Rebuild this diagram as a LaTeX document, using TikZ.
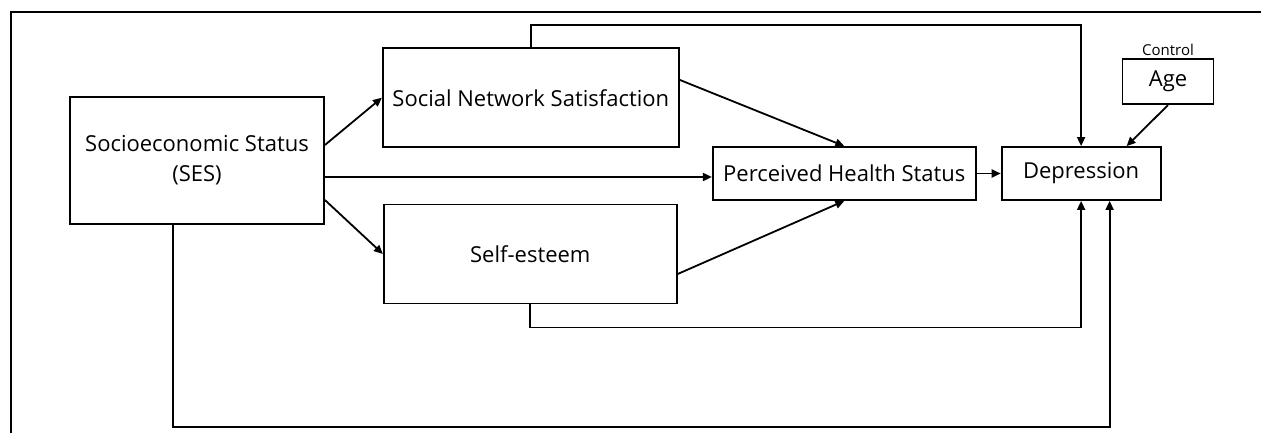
\documentclass[tikz,border=0pt]{standalone}
\usepackage{fontspec}
\setmainfont{Open Sans}
\usetikzlibrary{positioning,arrows.meta}

\begin{document}
\begin{tikzpicture}[
    font=\fontsize{11}{15}\selectfont,
    block/.style={
        draw,
        line width=0.9pt,
        minimum height=26.5pt,
        align=center,
        inner sep=2pt
    },
    wide/.style={block, minimum width=148pt, minimum height=49.5pt},
    arrow/.style={-{Triangle[length=4.5pt,width=4pt]}, line width=0.9pt},
    line/.style={line width=0.9pt}
]
\useasboundingbox (-98.5pt,-136.25pt) rectangle (532pt,80.25pt);

% ============================================================
% FRAME
% ============================================================
\draw[line] (532pt,74.25pt) -| (-93pt,-136.25pt);

% ============================================================
% NODES
% ============================================================
\node[block, minimum width=127pt, minimum height=63.5pt] (ses) {Socioeconomic Status\\(SES)};
\node[wide, right=28.5pt of ses, yshift=31.4pt] (sns) {Social Network Satisfaction};
\node[wide, right=29pt of ses, yshift=-46.75pt, minimum width=146.5pt] (se) {Self-esteem};
\node[block, minimum width=131.5pt, right=193.5pt of ses, yshift=-6.5pt] (phs) {Perceived Health Status};
\node[block, minimum width=79.5pt, right=12pt of phs] (dep) {Depression};
\node[block, minimum width=45.5pt, minimum height=22.5pt,
      above=20.5pt of dep.north east, xshift=3.25pt,
      label={[font=\fontsize{7.5}{9}\selectfont, inner sep=1pt]above:Control}] (age) {Age};

% ============================================================
% CONNECTORS
% ============================================================
\draw[arrow] ([yshift=7.75pt]ses.east) -- (sns.west);
\draw[arrow] ([yshift=-19.75pt]ses.east) -- (se.west);
\draw[arrow] ([yshift=-1.75pt]ses.east |- phs.west) -- ([yshift=-1.75pt]phs.west);
\draw[arrow] ([yshift=8.9pt]sns.east) -- (phs.north);
\draw[arrow] ([yshift=-10pt]se.east) -- (phs.south);
\draw[arrow] (phs) -- (dep);
\draw[arrow] (age.south) -- ([xshift=22.75pt]dep.north);

% direct paths to depression
\draw[arrow] (sns.north) -- ++(0,11.25pt) -| (dep.north);
\draw[arrow] (se.south) -- ++(0,-11.5pt) -| (dep.south);
\draw[arrow] ([xshift=-12pt]ses.south) -- ++(0,-101pt) -| ([xshift=14.25pt]dep.south);

\end{tikzpicture}
\end{document}
